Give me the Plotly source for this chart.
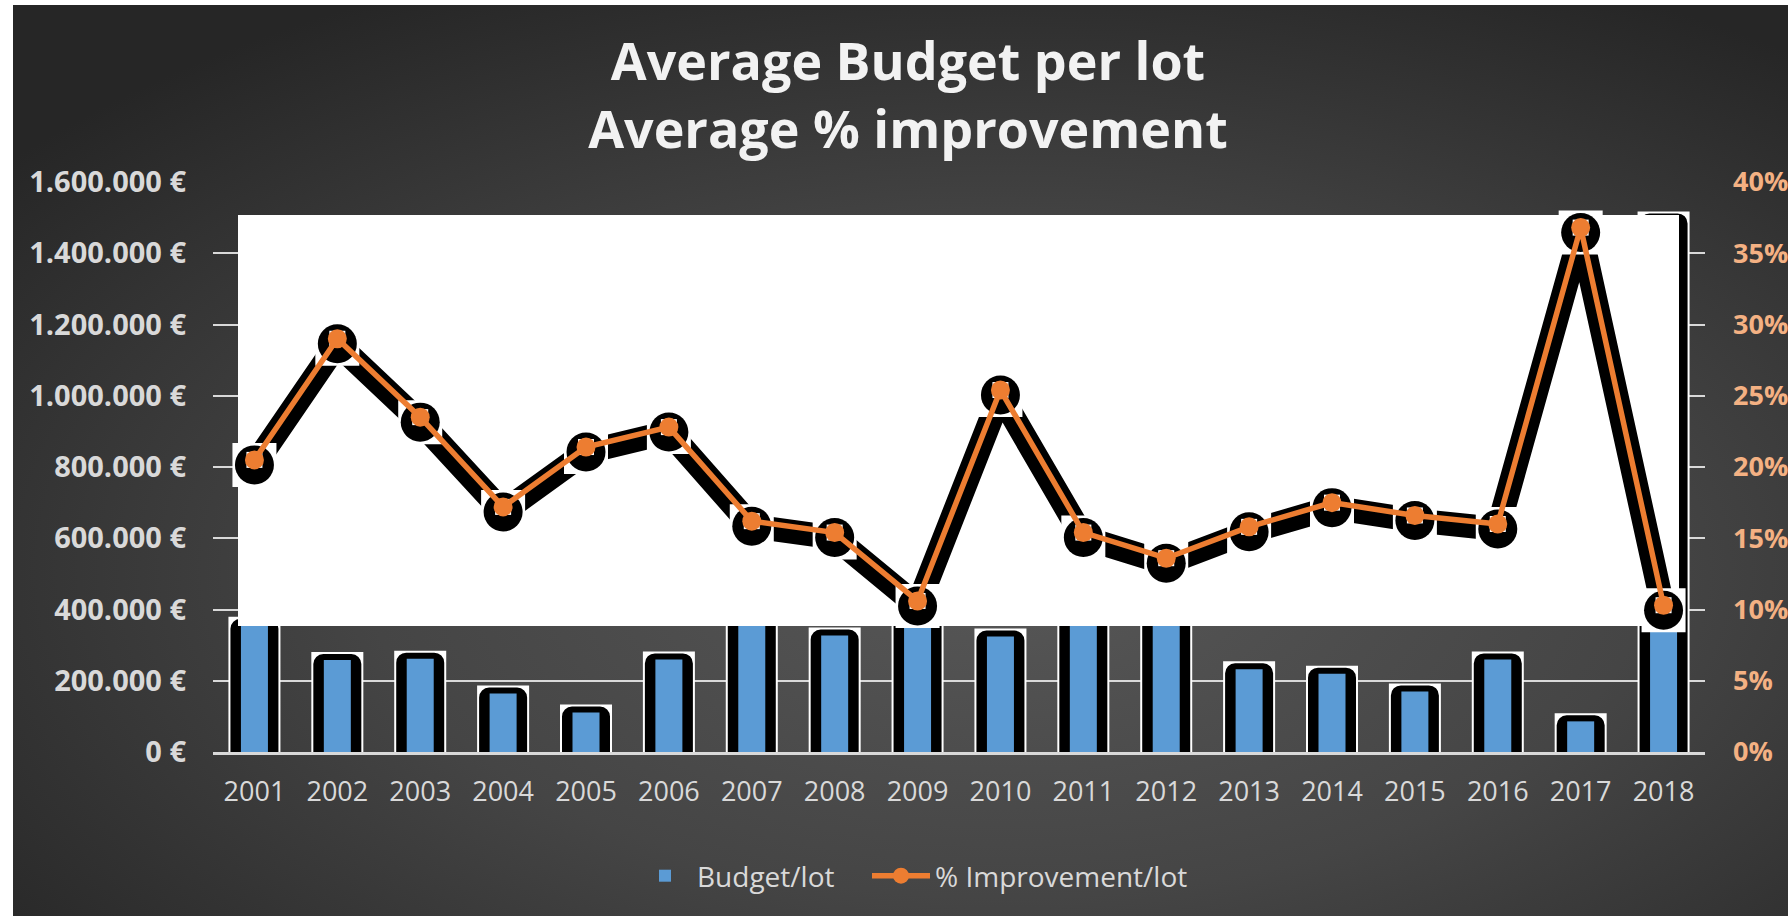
import base64
import plotly.graph_objects as go

# ---------------- data ----------------
years = [str(y) for y in range(2001, 2019)]
budget_per_lot = [357000, 258000, 262000, 164000, 111000, 260000, 500000, 327000, 420000,
                  324000, 560000, 480000, 232000, 220000, 170000, 260000, 86000, 1495000]
improvement_per_lot = [0.205, 0.290, 0.235, 0.172, 0.214, 0.228, 0.162, 0.154, 0.106,
                       0.254, 0.154, 0.136, 0.158, 0.175, 0.166, 0.160, 0.368, 0.103]
budget_axis_max = 1600000
budget_tick_step = 200000
pct_axis_max = 0.40
pct_tick_step = 0.05

# ---------------- layout geometry ----------------
W, H = 1788, 916
ML, MR, MT, MB = 213, 83, 182, 164
PW = W - ML - MR
PH = H - MT - MB
N = len(years)
CAT = PW / N


def px_to_cat(px):
    return (px - ML) / CAT - 0.5


def wfrac(px):
    return px / CAT


SHIFT_PX = 5
shift = SHIFT_PX / PH * pct_axis_max


def py_to_y2(py):
    return (H - MB - py) / PH * pct_axis_max + shift


def px_to_paper_x(px):
    return (px - ML) / PW


def py_to_paper_y(py):
    return (H - MB - py) / PH


ORANGE = "#ED7D31"
BLUE = "#5B9BD5"
LIGHT = "#D9D9D9"
FONT = "Open Sans"

fig = go.Figure()

# ---- bars (subplot x / y) ----
fig.add_trace(go.Bar(x=years, y=budget_per_lot, width=wfrac(36), marker=dict(color="white", line=dict(color="white", width=16)),
                     showlegend=False, hoverinfo="skip", xaxis="x", yaxis="y"))
fig.add_trace(go.Bar(x=years, y=budget_per_lot, width=wfrac(36), marker=dict(color="black", line=dict(color="black", width=12), cornerradius=4),
                     showlegend=False, hoverinfo="skip", xaxis="x", yaxis="y"))
fig.add_trace(go.Bar(x=years, y=budget_per_lot, width=wfrac(27), marker=dict(color=BLUE, line=dict(width=0)),
                     name="Budget/lot", xaxis="x", yaxis="y", legend="legend"))

# ---- line shadows (subplot x2 / y2, shifted) ----
fig.add_trace(go.Scatter(x=years, y=improvement_per_lot, mode="lines", line=dict(color="black", width=24),
                         showlegend=False, hoverinfo="skip", xaxis="x2", yaxis="y2"))
fig.add_trace(go.Scatter(x=years, y=improvement_per_lot, mode="markers", marker=dict(symbol="square", size=44, color="white"),
                         showlegend=False, hoverinfo="skip", xaxis="x2", yaxis="y2"))
fig.add_trace(go.Scatter(x=years, y=improvement_per_lot, mode="markers", marker=dict(symbol="circle", size=39, color="black"),
                         showlegend=False, hoverinfo="skip", xaxis="x2", yaxis="y2"))
# ---- main line (x2 / y3) ----
fig.add_trace(go.Scatter(x=years, y=improvement_per_lot, mode="markers", marker=dict(symbol="square", size=16, color="white"),
                         showlegend=False, hoverinfo="skip", xaxis="x2", yaxis="y3"))
fig.add_trace(go.Scatter(x=years, y=improvement_per_lot, mode="lines+markers", name="% Improvement/lot",
                         line=dict(color=ORANGE, width=5.5), marker=dict(symbol="circle", size=19, color=ORANGE),
                         xaxis="x2", yaxis="y3", legend="legend2"))

# ---- background gradient ----
bw, bh = W - 13, H - 5
svg = f'''<svg xmlns="http://www.w3.org/2000/svg" width="{bw}" height="{bh}" viewBox="0 0 {bw} {bh}" preserveAspectRatio="none">
<defs><radialGradient id="g" cx="0.56" cy="0.62" r="0.72" fx="0.56" fy="0.62">
<stop offset="0" stop-color="#575757"/><stop offset="0.5" stop-color="#454545"/><stop offset="1" stop-color="#262626"/>
</radialGradient></defs><rect x="0" y="0" width="{bw}" height="{bh}" fill="url(#g)"/></svg>'''
src = "data:image/svg+xml;base64," + base64.b64encode(svg.encode()).decode()

xrange = [-0.5, N - 0.5]
legend_font = dict(family=FONT, size=28, color=LIGHT)

fig.update_layout(
    width=W, height=H,
    margin=dict(l=ML, r=MR, t=MT, b=MB, pad=0, autoexpand=False),
    paper_bgcolor="white", plot_bgcolor="rgba(0,0,0,0)",
    separators=",.",
    barmode="overlay",
    font=dict(family=FONT, color=LIGHT),
    title=dict(text="Average Budget per lot<br>Average % improvement", x=908 / W, xanchor="center",
               y=1 - 80 / H, yanchor="middle", yref="container",
               font=dict(family=FONT, size=52, color="#F2F2F2", weight="bold")),
    xaxis=dict(type="category", range=xrange, showgrid=False, zeroline=False, showline=True,
               linecolor=LIGHT, linewidth=2.5, ticks="", ticklabelstandoff=14,
               tickfont=dict(family=FONT, size=27, color=LIGHT), anchor="y"),
    yaxis=dict(range=[0, budget_axis_max], dtick=budget_tick_step, tick0=0, tickformat=",d", ticksuffix=" €",
               showgrid=True, gridcolor=LIGHT, gridwidth=2, zeroline=False, showline=False, ticks="",
               ticklabelstandoff=26, tickfont=dict(family=FONT, size=29, color=LIGHT, weight="bold"), anchor="x"),
    xaxis2=dict(type="category", range=xrange, visible=False, anchor="y2", domain=[0, 1]),
    yaxis2=dict(range=[shift, pct_axis_max + shift], visible=False, anchor="x2", showgrid=False),
    yaxis3=dict(range=[0, pct_axis_max], dtick=pct_tick_step, tick0=0, tickformat=".0%", overlaying="y2",
                side="right", anchor="x2", showgrid=False, zeroline=False, showline=False, ticks="",
                ticklabelstandoff=27, tickfont=dict(family=FONT, size=27, color="#F4B183", weight="bold")),
    legend=dict(orientation="h", x=px_to_paper_x(633), xanchor="left", y=py_to_paper_y(876), yanchor="middle",
                bgcolor="rgba(0,0,0,0)", font=legend_font, itemwidth=54),
    legend2=dict(orientation="h", x=px_to_paper_x(867), xanchor="left", y=py_to_paper_y(876), yanchor="middle",
                 bgcolor="rgba(0,0,0,0)", font=legend_font, itemwidth=58),
    shapes=[dict(type="rect", xref="x2", yref="y2", x0=px_to_cat(238), x1=px_to_cat(1679),
                 y0=py_to_y2(626), y1=py_to_y2(215), fillcolor="white", line=dict(width=0), layer="below")],
    images=[dict(source=src, xref="paper", yref="paper", x=px_to_paper_x(13), y=py_to_paper_y(5),
                 sizex=bw / PW, sizey=bh / PH, sizing="stretch", xanchor="left", yanchor="top", layer="below")],
)

fig.write_html("out.html", config={"displayModeBar": False},
               post_script="document.body.style.margin='0';document.body.style.overflow='hidden';")
